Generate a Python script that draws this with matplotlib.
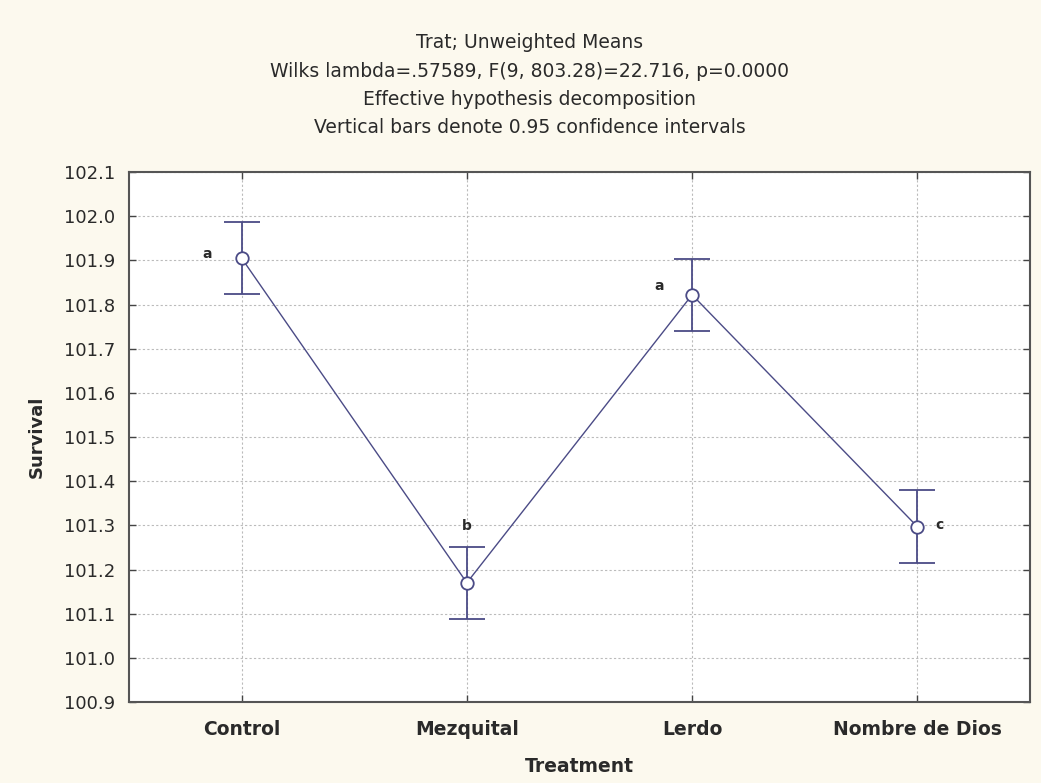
import matplotlib
matplotlib.use("Agg")
import matplotlib.pyplot as plt

categories = ["Control", "Mezquital", "Lerdo", "Nombre de Dios"]
means = [101.905, 101.170, 101.822, 101.297]
ci_half = [0.082, 0.082, 0.082, 0.082]
letters = ["a", "b", "a", "c"]
yticks = [100.9, 101.0, 101.1, 101.2, 101.3, 101.4, 101.5, 101.6, 101.7, 101.8, 101.9, 102.0, 102.1]

title_lines = [
    "Trat; Unweighted Means",
    "Wilks lambda=.57589, F(9, 803.28)=22.716, p=0.0000",
    "Effective hypothesis decomposition",
    "Vertical bars denote 0.95 confidence intervals",
]

bg = "#fcf9ee"
line_c = "#4b4b86"
txt_c = "#2a2a2a"

fig = plt.figure(figsize=(10.41, 7.83), dpi=100, facecolor=bg)
ax = fig.add_axes([0.1239, 0.1034, 0.8655, 0.6769])
ax.set_facecolor("white")

x = list(range(len(categories)))
ax.plot(x, means, color=line_c, lw=1.0, zorder=3)
ax.errorbar(x, means, yerr=ci_half, fmt="none", ecolor=line_c, elinewidth=1.3,
            capsize=13, capthick=1.3, zorder=3)
ax.plot(x, means, linestyle="none", marker="o", markersize=9, markerfacecolor="white",
        markeredgecolor=line_c, markeredgewidth=1.3, zorder=4)

# letters
offsets = [(-25, 3), (0, 0), (-24, 6), (16, 1)]
for i, (m, h, lab, off) in enumerate(zip(means, ci_half, letters, offsets)):
    if i == 1:
        ax.annotate(lab, (i, m + h), xytext=(0, 15), textcoords="offset points",
                    ha="center", va="center", fontsize=10, fontweight="bold",
                    family="DejaVu Sans", color=txt_c)
    else:
        ax.annotate(lab, (i, m), xytext=off, textcoords="offset points",
                    ha="center", va="center", fontsize=10, fontweight="bold",
                    family="DejaVu Sans", color=txt_c)

ax.set_xlim(-0.5, len(categories) - 0.5)
ax.set_ylim(yticks[0], yticks[-1])
ax.set_yticks(yticks)
ax.set_yticklabels([f"{v:.1f}" for v in yticks], family="DejaVu Sans", fontsize=13, color=txt_c)
ax.set_xticks(x)
ax.set_xticklabels(categories, family="DejaVu Sans", fontsize=13.5, fontweight="bold", color=txt_c)

ax.tick_params(axis="y", direction="in", length=5, width=1, color="#444444",
               right=True, pad=10)
ax.tick_params(axis="x", direction="in", length=5, width=1, color="#444444",
               top=True, pad=13)
ax.grid(True, linestyle=(0, (2, 2)), color="#bbbbbb", linewidth=0.8)
ax.set_axisbelow(True)
for s in ax.spines.values():
    s.set_color("#555555")
    s.set_linewidth(1.5)

ax.set_xlabel("Treatment", family="DejaVu Sans", fontsize=13.5, fontweight="bold",
              color=txt_c, labelpad=13)
ax.set_ylabel("Survival", family="DejaVu Sans", fontsize=13, fontweight="bold",
              color=txt_c, labelpad=13)

ys = [0.946, 0.909, 0.873, 0.837]
for t, yy in zip(title_lines, ys):
    fig.text(0.509, yy, t, ha="center", va="center", family="DejaVu Sans",
             fontsize=13.5, color=txt_c)

fig.savefig("out.png", dpi=100, facecolor=bg)
